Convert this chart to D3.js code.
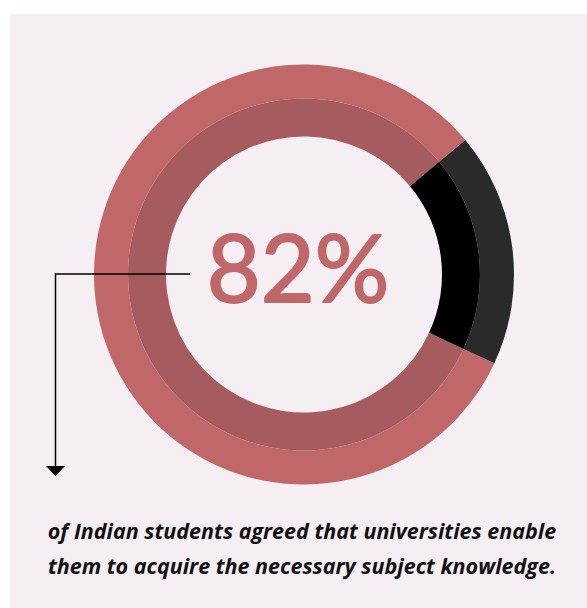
<!DOCTYPE html>
<html>
<head>
<meta charset="utf-8">
<script src="https://cdn.jsdelivr.net/npm/d3@7"></script>
<style>
  html, body { margin: 0; padding: 0; background: #ffffff; }
  svg { display: block; }
</style>
</head>
<body>
<svg id="chart" width="587" height="608"></svg>
<script>
// Survey share: students who agreed vs. the rest
const categories = ["Agreed", "Did not agree"];
const shares = [82, 18];
const outerColors = ["#c0676a", "#2a2a2a"];
const innerColors = ["#a65c5f", "#000000"];
const headline = "82%";
const captionLines = [
  "of Indian students agreed that universities enable",
  "them to acquire the necessary subject knowledge."
];

const W = 587, H = 608;
const svg = d3.select("#chart");

// panel background
svg.append("rect")
  .attr("x", 10).attr("y", 14)
  .attr("width", W - 10).attr("height", H - 14)
  .attr("fill", "#f5eff3");

const cx = 304, cy = 274.5;
const rOuter = 210, rMid = 176, rInner = 138;

const pie = d3.pie()
  .sort(null)
  .value(d => d.value)
  .startAngle(115 * Math.PI / 180)
  .endAngle(115 * Math.PI / 180 + 2 * Math.PI);

const data = categories.map((c, i) => ({ name: c, value: shares[i], i }));
const arcs = pie(data);

const g = svg.append("g").attr("transform", `translate(${cx},${cy})`);

const outerArc = d3.arc().innerRadius(rMid).outerRadius(rOuter);
const innerArc = d3.arc().innerRadius(rInner).outerRadius(rMid);

g.selectAll("path.outer").data(arcs).join("path")
  .attr("class", "outer")
  .attr("d", outerArc)
  .attr("fill", d => outerColors[d.data.i]);

g.selectAll("path.inner").data(arcs).join("path")
  .attr("class", "inner")
  .attr("d", innerArc)
  .attr("fill", d => innerColors[d.data.i]);

// headline figure (regular weight thickened by a thin same-colour stroke)
svg.append("text")
  .attr("x", 298).attr("y", 302)
  .attr("text-anchor", "middle")
  .attr("font-family", "Lato, 'Open Sans', sans-serif")
  .attr("font-weight", 400)
  .attr("font-size", 93)
  .attr("fill", "#c0676a")
  .attr("stroke", "#c0676a")
  .attr("stroke-width", 2)
  .attr("stroke-linejoin", "round")
  .text(headline);

// leader line with arrow pointing to the caption
svg.append("path")
  .attr("d", "M190,274 H55.5 V467")
  .attr("fill", "none")
  .attr("stroke", "#000")
  .attr("stroke-width", 1.5);
svg.append("path")
  .attr("d", "M46,466 L65,466 L55.5,476 Z")
  .attr("fill", "#000");

// caption
svg.selectAll("text.caption").data(captionLines).join("text")
  .attr("class", "caption")
  .attr("x", 302)
  .attr("y", (d, i) => 539 + i * 35)
  .attr("text-anchor", "middle")
  .attr("font-family", "'Open Sans', sans-serif")
  .attr("font-style", "italic")
  .attr("font-weight", 700)
  .attr("font-size", 21.5)
  .attr("fill", "#111")
  .text(d => d);
</script>
</body>
</html>
